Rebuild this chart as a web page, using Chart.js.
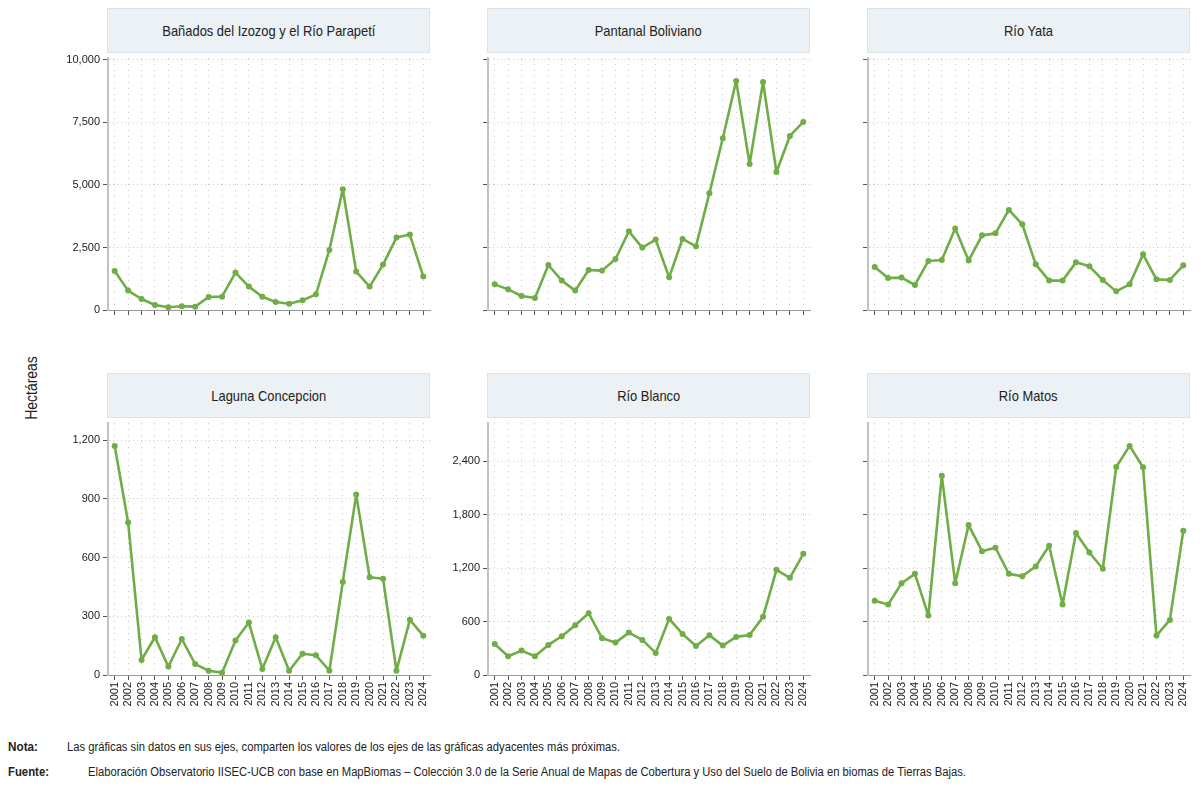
<!DOCTYPE html>
<html>
<head>
<meta charset="utf-8">
<script src="https://cdn.jsdelivr.net/npm/chart.js@4"></script>
<style>
body { margin:0; width:1200px; height:789px; background:#fff; position:relative; overflow:hidden;
       font-family:"Liberation Sans",Arial,sans-serif; color:#222; }
canvas { position:absolute; }
.head { position:absolute; width:323px; height:45px; background:#ebf1f4; border:1px solid #d9e3e8;
        box-sizing:border-box; display:flex; align-items:center; justify-content:center; font-size:15px; }
.head span { display:inline-block; transform:scaleX(0.86); white-space:nowrap; }
.ylab { position:absolute; left:32px; top:388px; transform:translate(-50%,-50%) rotate(-90deg) scaleX(0.82);
        font-size:17px; white-space:nowrap; }
.note { position:absolute; font-size:12.5px; white-space:nowrap; transform-origin:0 50%; }
</style>
</head>
<body>

<div class="ylab">Hectáreas</div>

<div class="head" style="left:107px;top:8px"><span>Bañados del Izozog y el Río Parapetí</span></div>
<div class="head" style="left:487px;top:8px"><span>Pantanal Boliviano</span></div>
<div class="head" style="left:867px;top:8px"><span>Río Yata</span></div>
<div class="head" style="left:107px;top:373px"><span>Laguna Concepcion</span></div>
<div class="head" style="left:487px;top:373px"><span>Río Blanco</span></div>
<div class="head" style="left:867px;top:373px"><span>Río Matos</span></div>

<canvas id="c1" width="392" height="272"></canvas>
<canvas id="c2" width="392" height="272"></canvas>
<canvas id="c3" width="392" height="272"></canvas>
<canvas id="c4" width="392" height="312"></canvas>
<canvas id="c5" width="392" height="312"></canvas>
<canvas id="c6" width="392" height="312"></canvas>

<div class="note" style="left:8px;top:740px" data-w="30"><b>Nota:</b></div>
<div class="note" style="left:67px;top:740px" data-w="553">Las gráficas sin datos en sus ejes, comparten los valores de los ejes de las gráficas adyacentes más próximas.</div>
<div class="note" style="left:8px;top:765px" data-w="41"><b>Fuente:</b></div>
<div class="note" style="left:88px;top:765px" data-w="878">Elaboración Observatorio IISEC-UCB con base en MapBiomas – Colección 3.0 de la Serie Anual de Mapas de Cobertura y Uso del Suelo de Bolivia en biomas de Tierras Bajas.</div>

<script>
// hectáreas por año
const years = ['2001','2002','2003','2004','2005','2006','2007','2008','2009','2010','2011','2012',
               '2013','2014','2015','2016','2017','2018','2019','2020','2021','2022','2023','2024'];

const banados  = [1560, 775, 440, 200, 107, 147, 133, 520, 533, 1495, 935, 533,
                  320, 253, 387, 627, 2400, 4830, 1535, 935, 1815, 2895, 3015, 1335];
const pantanal = [1025, 825, 560, 480, 1800, 1175, 775, 1600, 1575, 2040, 3145, 2495,
                  2815, 1305, 2840, 2545, 4665, 6865, 9160, 5840, 9120, 5520, 6960, 7520];
const rioYata  = [1720, 1280, 1295, 1000, 1960, 2000, 3255, 1975, 2985, 3065, 4000, 3425,
                  1825, 1175, 1175, 1905, 1745, 1200, 745, 1025, 2225, 1225, 1200, 1785];
const laguna   = [1171, 780, 77, 193, 43, 184, 56, 22, 12, 176, 268, 31,
                  193, 22, 109, 101, 22, 476, 922, 500, 492, 22, 282, 201];
const rioBlanco = [349, 210, 274, 210, 338, 435, 559, 694, 413, 364, 476, 394,
                   248, 630, 461, 326, 446, 330, 428, 450, 653, 1181, 1091, 1361];
const rioMatos = [833, 791, 1031, 1136, 668, 2239, 1031, 1684, 1391, 1429, 1136, 1110,
                  1219, 1451, 791, 1594, 1376, 1193, 2336, 2573, 2333, 443, 619, 1620];

const topStep = 2500, lagunaStep = 300, bottomStep = 600;

const green = '#70ad47';
const font = '"Liberation Sans",Arial,sans-serif';

// squeeze footnote text to the narrow width of the original
document.querySelectorAll('.note').forEach(el => {
  const w = el.getBoundingClientRect().width;
  el.style.transform = 'scaleX(' + (+el.dataset.w / w) + ')';
});

function maxOf(arrs) {
  return Math.max.apply(null, arrs.flat()) * 1.1;
}
const topMax = maxOf([banados, pantanal, rioYata]);
const lagunaMax = maxOf([laguna]);
const bottomMax = maxOf([rioBlanco, rioMatos]);

function panel(id, col, row, values, yMax, step, showY, showX) {
  const axisX = [108, 488, 868][col];
  const top = [58, 423][row];
  const cv = document.getElementById(id);
  cv.style.left = (axisX - 60) + 'px';
  cv.style.top = (top - 10) + 'px';

  new Chart(cv, {
    type: 'line',
    data: {
      labels: years,
      datasets: [{
        data: values,
        borderColor: green,
        backgroundColor: green,
        borderWidth: 2.6,
        borderJoinStyle: 'round',
        pointRadius: 3,
        pointBorderWidth: 0,
        tension: 0
      }]
    },
    options: {
      responsive: false,
      devicePixelRatio: 1,
      animation: false,
      locale: 'en-US',
      layout: { padding: { top: 10, right: 10, bottom: 0, left: 0 } },
      plugins: { legend: { display: false }, tooltip: { enabled: false } },
      scales: {
        x: {
          offset: true,
          grid: { offset: false, color: '#cccccc', drawTicks: true, tickLength: 5,
                  tickColor: '#555', tickBorderDash: [] },
          border: { color: '#999', width: 1, dash: [1, 5] },
          ticks: { display: showX, autoSkip: false, minRotation: 90, maxRotation: 90,
                   padding: 2, color: '#222', font: { family: font, size: 11 } },
          afterFit: s => { s.height = showX ? 50 : 10; }
        },
        y: {
          min: 0,
          max: yMax,
          grid: { color: '#cccccc', drawTicks: true, tickLength: 5,
                  tickColor: '#555', tickBorderDash: [] },
          border: { color: '#c2c2c2', width: 2, dash: [1, 3] },
          ticks: { display: showY, padding: 3, color: '#222',
                   font: { family: font, size: 11 } },
          afterBuildTicks: s => {
            const t = [];
            for (let v = 0; v <= yMax; v += step) t.push({ value: v });
            s.ticks = t;
          },
          afterFit: s => { s.width = 60; }
        }
      }
    }
  });
}

panel('c1', 0, 0, banados, topMax, topStep, true, false);
panel('c2', 1, 0, pantanal, topMax, topStep, false, false);
panel('c3', 2, 0, rioYata, topMax, topStep, false, false);
panel('c4', 0, 1, laguna, lagunaMax, lagunaStep, true, true);
panel('c5', 1, 1, rioBlanco, bottomMax, bottomStep, true, true);
panel('c6', 2, 1, rioMatos, bottomMax, bottomStep, false, true);
</script>
</body>
</html>
